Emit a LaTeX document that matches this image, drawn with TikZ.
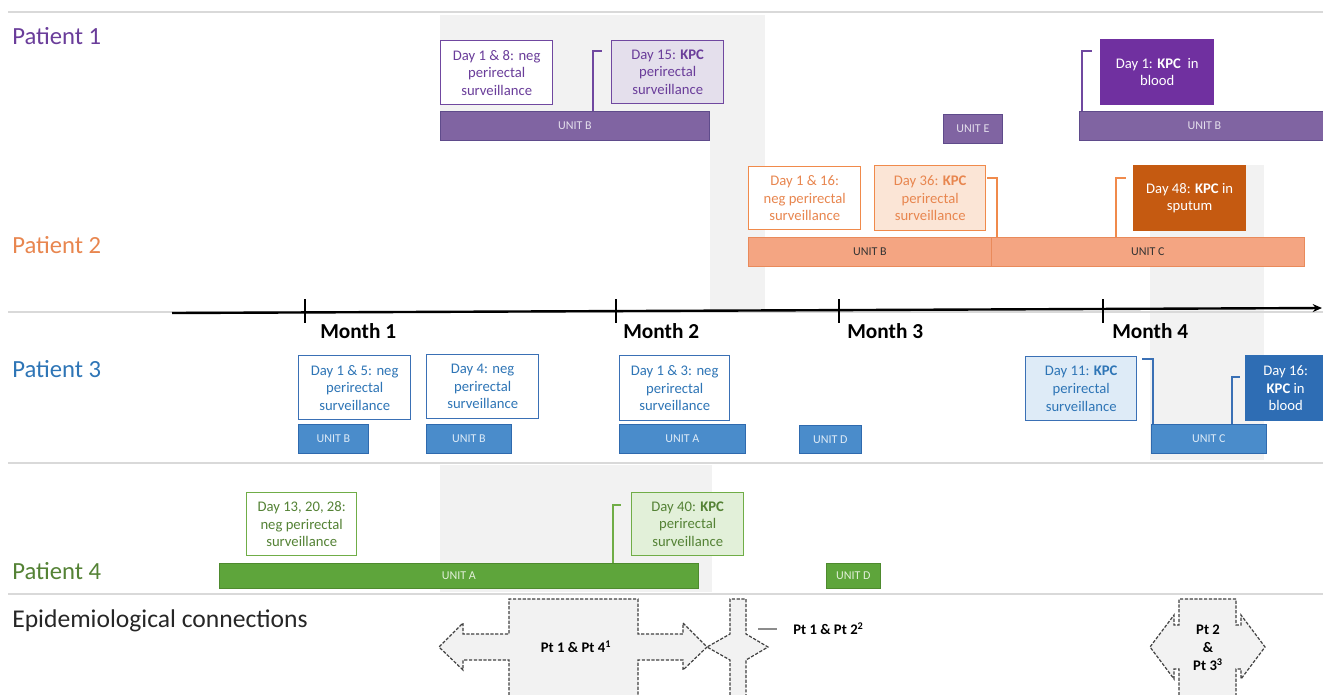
\documentclass[tikz,border=0pt]{standalone}
\usepackage{fontspec}
\setmainfont{Carlito}
\usepackage{tikz}
\usetikzlibrary{arrows.meta}
\definecolor{bandgrey}{HTML}{F2F2F2}
\definecolor{sepgrey}{HTML}{D9D9D9}
\definecolor{ptonetext}{HTML}{6A3D9A}
\definecolor{ptoneline}{HTML}{7048A0}
\definecolor{ptonedark}{HTML}{7030A0}
\definecolor{ptonebar}{HTML}{8064A2}
\definecolor{ptoneedge}{HTML}{5F4B8B}
\definecolor{ptonelight}{HTML}{E4DFEC}
\definecolor{pttwotext}{HTML}{E8864F}
\definecolor{pttwoline}{HTML}{F08A4B}
\definecolor{pttwodark}{HTML}{C55A11}
\definecolor{pttwobar}{HTML}{F4A582}
\definecolor{pttwoedge}{HTML}{E98A5B}
\definecolor{pttwolight}{HTML}{FBE5D6}
\definecolor{ptthreetext}{HTML}{2E75B6}
\definecolor{ptthreeline}{HTML}{3A70B5}
\definecolor{ptthreedark}{HTML}{2E6DB4}
\definecolor{ptthreebar}{HTML}{4A8CCB}
\definecolor{ptthreeedge}{HTML}{2F6AAE}
\definecolor{ptthreelight}{HTML}{DEEBF7}
\definecolor{ptfourtext}{HTML}{548235}
\definecolor{ptfourline}{HTML}{70AD47}
\definecolor{ptfourbar}{HTML}{5EA53B}
\definecolor{ptfouredge}{HTML}{4E8A2E}
\definecolor{ptfourlight}{HTML}{E2F0D9}

\begin{document}
\begin{tikzpicture}[x=0.75pt, y=-0.75pt,
    sz/.style 2 args={minimum width=#1*0.75pt, minimum height=#2*0.75pt},
    box/.style={draw, line width=1pt, inner sep=0pt, align=center, anchor=north west, font=\fontsize{11}{13.2}\selectfont},
    bar/.style={draw, line width=0.6pt, inner sep=0pt, anchor=north west, font=\fontsize{9}{10}\selectfont},
    band/.style={fill=bandgrey, draw=none},
    sep/.style={draw=sepgrey, line width=1pt},
    plabel/.style={anchor=west, inner sep=0pt, font=\fontsize{18.5}{22}\selectfont},
    month/.style={anchor=west, inner sep=0pt, font=\fontsize{16}{19}\selectfont\bfseries},
    link/.style={line width=1pt},
    epi/.style={draw=black!75, fill=bandgrey, line width=0.9pt, dash pattern=on 2.4pt off 1.2pt},
    epitext/.style={align=center, inner sep=0pt, font=\fontsize{11}{13.5}\selectfont\bfseries},
  ]
  \useasboundingbox (0,0) rectangle (1323,694);

  % grey time windows of the connections
  \fill[band] (440,15) rectangle (710,140);
  \fill[band] (710,15) rectangle (765,310);
  \fill[band] (440,465) rectangle (712,592);
  \fill[band] (1150,165) rectangle (1264,460);

  % row separators
  \foreach \y in {12,312,463,594}
    \draw[sep] (8,\y) -- (1323,\y);

  % row labels
  \node[plabel, text=ptonetext] (pt1) at (12,36) {Patient 1};
  \node[plabel, text=pttwotext] (pt2) at (12,245) {Patient 2};
  \node[plabel, text=ptthreetext] (pt3) at (12,369) {Patient 3};
  \node[plabel, text=ptfourtext] (pt4) at (12,571) {Patient 4};
  \node[plabel, text=black!85, font=\fontsize{19.2}{22}\selectfont] (epi) at (12,621) {Epidemiological connections};

  % time axis
  \coordinate (t0) at (172,313);
  \coordinate (t1) at (1322,308);
  \draw[line width=1.8pt, -{Stealth[length=7pt,width=6pt]}] (t0) -- (t1);
  \foreach \x/\lx/\m in {305/320/1, 616/623/2, 839/847/3, 1103/1112/4} {
    \draw[line width=1.4pt] (\x,299) -- (\x,323);
    \node[month] (month\m) at (\lx,331) {Month \m};
  }

  % Patient 1
  \node[box, sz={112}{64}, draw=ptoneline, fill=white, text=ptonetext] (p1a) at (440,40) {Day 1 \& 8: neg\\perirectal\\surveillance};
  \node[box, sz={112}{63}, draw=ptoneline, fill=ptonelight, text=ptonetext] (p1b) at (611,40) {Day 15: \textbf{KPC}\\perirectal\\surveillance};
  \node[box, sz={113}{65}, draw=ptonedark, fill=ptonedark, text=white] (p1c) at (1100,39) {Day 1: \textbf{KPC}\ \ in\\blood};
  \node[bar, sz={269}{29}, fill=ptonebar, draw=ptoneedge, text=ptonelight] (p1u1) at (440,111) {UNIT B};
  \node[bar, sz={59}{29}, fill=ptonebar, draw=ptoneedge, text=ptonelight] (p1u2) at (943,114) {UNIT E};
  \node[bar, sz={250}{29}, fill=ptonebar, draw=ptoneedge, text=ptonelight] (p1u3) at (1079,111) {UNIT B};
  \coordinate (k1a) at (593,111);
  \coordinate (k1b) at (602,51);
  \coordinate (k2a) at (1082,111);
  \coordinate (k2b) at (1092,51);
  \draw[link, draw=ptoneline] (k1a) |- (k1b);
  \draw[link, draw=ptoneline] (k2a) |- (k2b);

  % Patient 2
  \node[box, sz={112}{63}, draw=pttwoline, fill=white, text=pttwotext] (p2a) at (748,166) {Day 1 \& 16:\\neg perirectal\\surveillance};
  \node[box, sz={111}{65}, draw=pttwoline, fill=pttwolight, text=pttwotext] (p2b) at (874,165) {Day 36: \textbf{KPC}\\perirectal\\surveillance};
  \node[box, sz={112}{65}, draw=pttwodark, fill=pttwodark, text=white] (p2c) at (1133,165) {Day 48: \textbf{KPC} in\\sputum};
  \node[bar, sz={243}{29}, fill=pttwobar, draw=pttwoedge, text=black!80] (p2u1) at (748,237) {UNIT B};
  \node[bar, sz={313}{29}, fill=pttwobar, draw=pttwoedge, text=black!80] (p2u2) at (991,237) {UNIT C};
  \coordinate (k3a) at (997,237);
  \coordinate (k3b) at (987,178);
  \coordinate (k4a) at (1116,237);
  \coordinate (k4b) at (1126,178);
  \draw[link, draw=pttwoline] (k3b) -| (k3a);
  \draw[link, draw=pttwoline] (k4a) |- (k4b);

  % Patient 3
  \node[box, sz={112}{64}, draw=ptthreeline, fill=white, text=ptthreetext] (p3a) at (298,355) {Day 1 \& 5: neg\\perirectal\\surveillance};
  \node[box, sz={112}{64}, draw=ptthreeline, fill=white, text=ptthreetext] (p3b) at (426,354) {Day 4: neg\\perirectal\\surveillance};
  \node[box, sz={110}{65}, draw=ptthreeline, fill=white, text=ptthreetext] (p3c) at (619,355) {Day 1 \& 3: neg\\perirectal\\surveillance};
  \node[box, sz={111}{64}, draw=ptthreeline, fill=ptthreelight, text=ptthreetext] (p3d) at (1025,356) {Day 11: \textbf{KPC}\\perirectal\\surveillance};
  \node[box, sz={80}{65}, draw=ptthreedark, fill=ptthreedark, text=white] (p3e) at (1245,355) {Day 16:\\\textbf{KPC} in\\blood};
  \node[bar, sz={70}{29}, fill=ptthreebar, draw=ptthreeedge, text=ptthreelight] (p3u1) at (298,424) {UNIT B};
  \node[bar, sz={85}{29}, fill=ptthreebar, draw=ptthreeedge, text=ptthreelight] (p3u2) at (426,424) {UNIT B};
  \node[bar, sz={126}{29}, fill=ptthreebar, draw=ptthreeedge, text=ptthreelight] (p3u3) at (619,424) {UNIT A};
  \node[bar, sz={62}{28}, fill=ptthreebar, draw=ptthreeedge, text=ptthreelight] (p3u4) at (799,425) {UNIT D};
  \node[bar, sz={115}{29}, fill=ptthreebar, draw=ptthreeedge, text=ptthreelight] (p3u5) at (1151,424) {UNIT C};
  \coordinate (k5a) at (1153,424);
  \coordinate (k5b) at (1142,359);
  \coordinate (k6a) at (1232,424);
  \coordinate (k6b) at (1240,377);
  \draw[link, draw=ptthreeline] (k5b) -| (k5a);
  \draw[link, draw=ptthreeline] (k6a) |- (k6b);

  % Patient 4
  \node[box, sz={110}{63}, draw=ptfourline, fill=white, text=ptfourtext] (p4a) at (246,492) {Day 13, 20, 28:\\neg perirectal\\surveillance};
  \node[box, sz={112}{63}, draw=ptfourline, fill=ptfourlight, text=ptfourtext] (p4b) at (631,492) {Day 40: \textbf{KPC}\\perirectal\\surveillance};
  \node[bar, sz={479}{25}, fill=ptfourbar, draw=ptfouredge, text=ptfourlight] (p4u1) at (219,563) {UNIT A};
  \node[bar, sz={54}{25}, fill=ptfourbar, draw=ptfouredge, text=ptfourlight] (p4u2) at (826,563) {UNIT D};
  \coordinate (k7a) at (613,563);
  \coordinate (k7b) at (621,505);
  \draw[link, draw=ptfourline] (k7a) |- (k7b);

  % Epidemiological connections
  \draw[epi] (509,700) -- (509,660) -- (463,660) -- (463,670) -- (439,647) -- (463,623)
    -- (463,634) -- (509,634) -- (509,599) -- (638,599) -- (638,634) -- (683,634)
    -- (683,623) -- (707,647) -- (683,670) -- (683,660) -- (638,660) -- (638,700) -- cycle;
  \draw[epi] (730,700) -- (730,660) -- (707,647) -- (730,634) -- (730,599) -- (746,599)
    -- (746,634) -- (768,647) -- (746,660) -- (746,700) -- cycle;
  \draw[epi] (1179,700) -- (1179,669) -- (1174,669) -- (1174,679) -- (1150,647) -- (1174,615)
    -- (1174,625) -- (1179,625) -- (1179,599) -- (1236,599) -- (1236,625) -- (1241,625)
    -- (1241,615) -- (1265,647) -- (1241,679) -- (1241,669) -- (1236,669) -- (1236,700) -- cycle;
  \node[epitext] (e14) at (576,647) {Pt 1 \& Pt 4\textsuperscript{1}};
  \node[epitext, anchor=west] (e12) at (793,629) {Pt 1 \& Pt 2\textsuperscript{2}};
  \node[epitext] (e23) at (1208,648) {Pt 2\\\&\\Pt 3\textsuperscript{3}};
  \coordinate (c12) at (758,629);
  \draw[draw=black!45, line width=0.8pt, shorten >=12pt] (c12) -- (e12.west);
\end{tikzpicture}
\end{document}
